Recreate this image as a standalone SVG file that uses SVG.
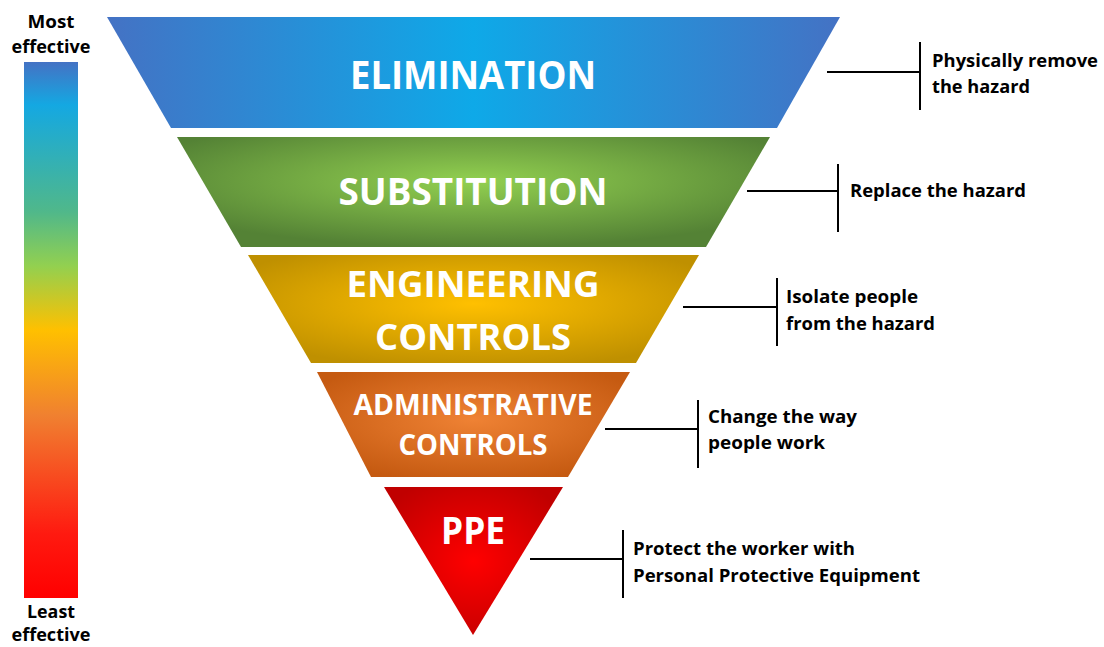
<svg xmlns="http://www.w3.org/2000/svg" width="1104" height="647" viewBox="0 0 1104 647">
<defs>
<linearGradient id="gBlue" x1="0" y1="0" x2="1" y2="0">
<stop offset="0" stop-color="#4472C4"/><stop offset="0.5" stop-color="#0EA9E8"/><stop offset="1" stop-color="#4472C4"/>
</linearGradient>
<radialGradient id="gGreen" cx="0.5" cy="0.4" r="0.6">
<stop offset="0" stop-color="#92D050"/><stop offset="1" stop-color="#548235"/>
</radialGradient>
<radialGradient id="gYellow" cx="0.5" cy="0.45" r="0.6">
<stop offset="0" stop-color="#FFC000"/><stop offset="1" stop-color="#BF9000"/>
</radialGradient>
<radialGradient id="gOrange" cx="0.5" cy="0.45" r="0.6">
<stop offset="0" stop-color="#EF8234"/><stop offset="1" stop-color="#C55A11"/>
</radialGradient>
<radialGradient id="gRed" cx="0.5" cy="0.5" r="0.6">
<stop offset="0" stop-color="#FF0000"/><stop offset="1" stop-color="#C00000"/>
</radialGradient>
<linearGradient id="gBar" x1="0" y1="0" x2="0" y2="1">
<stop offset="0" stop-color="#4472C4"/>
<stop offset="0.08" stop-color="#14A8E2"/>
<stop offset="0.28" stop-color="#50B88A"/>
<stop offset="0.38" stop-color="#92D050"/>
<stop offset="0.5" stop-color="#FFC000"/>
<stop offset="0.66" stop-color="#F08030"/>
<stop offset="0.88" stop-color="#FF1A10"/>
<stop offset="1" stop-color="#FF0000"/>
</linearGradient>
</defs>
<style>
.band{font-family:"Open Sans","Liberation Sans",sans-serif;font-weight:bold;fill:#FFFFFF;text-anchor:middle}
.lbl{font-family:"Open Sans","Liberation Sans",sans-serif;font-weight:bold;fill:#000000;font-size:17px}
.side{font-family:"Open Sans","Liberation Sans",sans-serif;font-weight:bold;fill:#000000;font-size:18px;text-anchor:middle}
.conn{stroke:#000000;stroke-width:2;fill:none}
</style>
<g id="scale">
<rect x="24" y="62" width="54" height="536" fill="url(#gBar)"/>
<text class="side" x="51" y="28" textLength="47" lengthAdjust="spacingAndGlyphs">Most</text>
<text class="side" x="51" y="53" textLength="79" lengthAdjust="spacingAndGlyphs">effective</text>
<text class="side" x="51" y="618" textLength="48" lengthAdjust="spacingAndGlyphs">Least</text>
<text class="side" x="51" y="641" font-size="17" textLength="79" lengthAdjust="spacingAndGlyphs">effective</text>
</g>
<g id="elimination">
<polygon points="107,17 840,17 777,128 171,128" fill="url(#gBlue)"/>
<text class="band" x="473" y="89" font-size="39" textLength="246" lengthAdjust="spacingAndGlyphs">ELIMINATION</text>
</g>
<g id="substitution">
<polygon points="177,137 770,137 706,247 241,247" fill="url(#gGreen)"/>
<text class="band" x="473" y="205" font-size="38" textLength="269" lengthAdjust="spacingAndGlyphs">SUBSTITUTION</text>
</g>
<g id="engineering">
<polygon points="248,255 699,255 636,363 311,363" fill="url(#gYellow)"/>
<text class="band" x="473" y="297" font-size="35" textLength="253" lengthAdjust="spacingAndGlyphs">ENGINEERING</text>
<text class="band" x="473" y="350" font-size="35" textLength="196" lengthAdjust="spacingAndGlyphs">CONTROLS</text>
</g>
<g id="administrative">
<polygon points="317,372 630,372 568,477 371,477" fill="url(#gOrange)"/>
<text class="band" x="473" y="415" font-size="28" textLength="239" lengthAdjust="spacingAndGlyphs">ADMINISTRATIVE</text>
<text class="band" x="473" y="455" font-size="29" textLength="149" lengthAdjust="spacingAndGlyphs">CONTROLS</text>
</g>
<g id="ppe">
<polygon points="384,487 563,487 473,635" fill="url(#gRed)"/>
<text class="band" x="473" y="544" font-size="38" textLength="64" lengthAdjust="spacingAndGlyphs">PPE</text>
</g>
<g id="connectors">
<path class="conn" d="M827,72 H920 M920,42 V110"/>
<path class="conn" d="M747,191 H838 M838,164 V232"/>
<path class="conn" d="M683,307 H777 M777,278 V346"/>
<path class="conn" d="M605,429 H698 M698,400 V468"/>
<path class="conn" d="M530,559 H623 M623,530 V598"/>
</g>
<g id="labels">
<text class="lbl" x="932" y="67" textLength="166" lengthAdjust="spacingAndGlyphs">Physically remove</text>
<text class="lbl" x="932" y="93" textLength="98" lengthAdjust="spacingAndGlyphs">the hazard</text>
<text class="lbl" x="850" y="197" textLength="176" lengthAdjust="spacingAndGlyphs">Replace the hazard</text>
<text class="lbl" x="786" y="303" textLength="132" lengthAdjust="spacingAndGlyphs">Isolate people</text>
<text class="lbl" x="786" y="330" textLength="149" lengthAdjust="spacingAndGlyphs">from the hazard</text>
<text class="lbl" x="708" y="423" textLength="149" lengthAdjust="spacingAndGlyphs">Change the way</text>
<text class="lbl" x="708" y="449" textLength="117" lengthAdjust="spacingAndGlyphs">people work</text>
<text class="lbl" x="633" y="555" textLength="222" lengthAdjust="spacingAndGlyphs">Protect the worker with</text>
<text class="lbl" x="633" y="582" textLength="287" lengthAdjust="spacingAndGlyphs">Personal Protective Equipment</text>
</g>
</svg>
